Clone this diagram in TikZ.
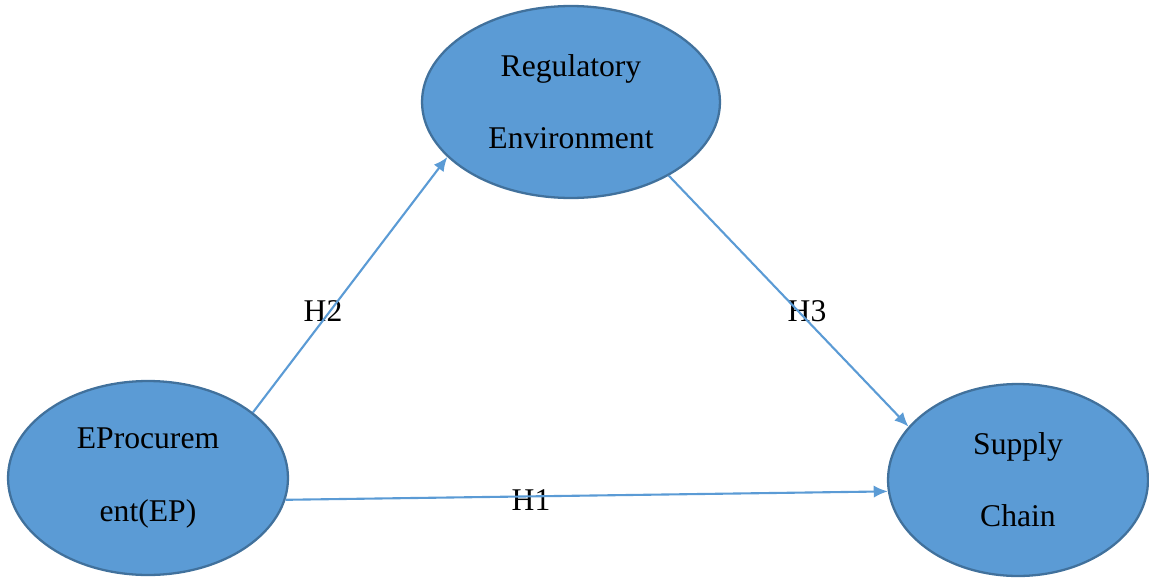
\documentclass[tikz,border=0pt]{standalone}
\usepackage{fontspec}
\setmainfont{Liberation Serif}
\usetikzlibrary{shapes.geometric,arrows.meta}
\definecolor{blobfill}{HTML}{5B9BD5}
\definecolor{blobline}{HTML}{41719C}
\tikzset{
	blob/.style={ellipse,draw=blobline,fill=blobfill,line width=1.3pt,inner sep=0pt,align=center,font=\fontsize{18}{41}\selectfont},
	link/.style={draw=blobfill,line width=1.2pt,-{Latex[length=8pt,width=7pt]}},
	hlabel/.style={font=\fontsize{18}{21}\selectfont}
}
\begin{document}
\begin{tikzpicture}[x=0.02cm,y=-0.02cm]
	\useasboundingbox (0,0) rectangle (1149,578);
	\node[hlabel] (h2) at (323,311) {H2};
	\node[hlabel] (h3) at (807,311) {H3};
	\node[hlabel] (h1) at (531,500) {H1};
	\node[blob,minimum width=5.96cm,minimum height=3.84cm] (re) at (571,102) {Regulatory\\Environment};
	\node[blob,minimum width=5.6cm,minimum height=3.88cm] (ep) at (148,478) {EProcurem\\ent(EP)};
	\node[blob,minimum width=5.2cm,minimum height=3.84cm] (sc) at (1018,480) {Supply\\Chain};
	\draw[link] (ep.32.4) -- (re.204.5);
	\draw[link] (re.323.6) -- (sc.154.5);
	\draw[link] (ep.-9) -- (sc.185.4);
\end{tikzpicture}
\end{document}
